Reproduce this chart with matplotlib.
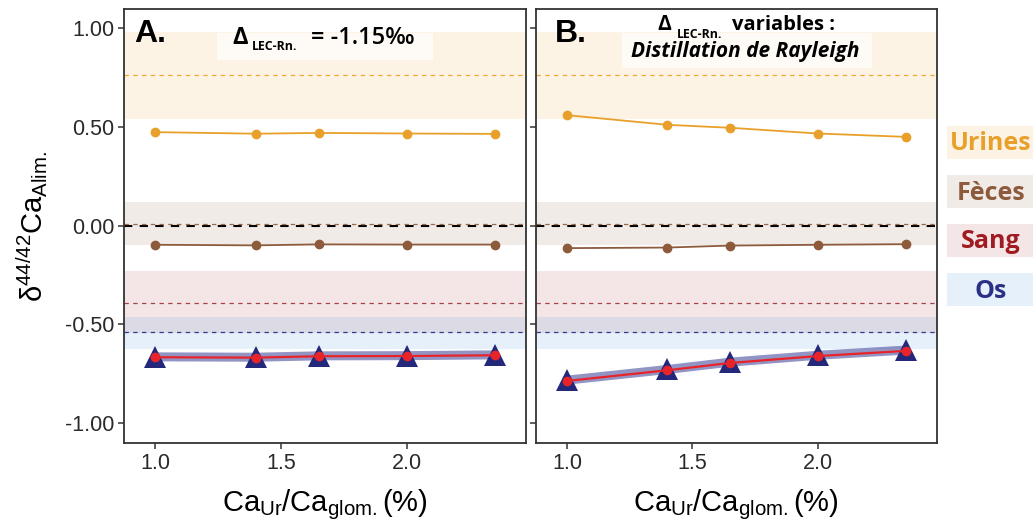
import matplotlib
matplotlib.use('Agg')
import matplotlib.pyplot as plt
from matplotlib.patches import Rectangle

# x: Ca urine / Ca glomerular filtration (%)
x = [1.0, 1.4, 1.65, 2.0, 2.35]

groups = ['Urines', 'Fèces', 'Sang', 'Os']
ref_mean = [0.76, 0.01, -0.39, -0.54]
ref_low = [0.54, -0.10, -0.545, -0.625]
ref_high = [0.98, 0.12, -0.23, -0.46]

# panel A : constant fractionation
urines_a = [0.473, 0.465, 0.469, 0.466, 0.464]
feces_a = [-0.097, -0.100, -0.095, -0.096, -0.096]
sang_a = [-0.666, -0.668, -0.661, -0.660, -0.656]
os_a = [-0.664, -0.666, -0.659, -0.658, -0.654]

# panel B : Rayleigh distillation
urines_b = [0.559, 0.510, 0.495, 0.466, 0.449]
feces_b = [-0.114, -0.111, -0.101, -0.097, -0.094]
sang_b = [-0.786, -0.732, -0.695, -0.660, -0.634]
os_b = [-0.782, -0.728, -0.691, -0.656, -0.630]

yticks = [-1.0, -0.5, 0.0, 0.5, 1.0]
ytick_labels = ['-1.00', '-0.50', '0.00', '0.50', '1.00']
xticks = [1.0, 1.5, 2.0]
xtick_labels = ['1.0', '1.5', '2.0']

text_col = ['#E9A02A', '#8D5B3C', '#A01C22', '#2B2F86']
band_col = ['#EDA835', '#8D5B3C', '#A01C22', '#3C8DDC']
band_alpha = [0.13, 0.12, 0.11, 0.13]
dash_col = ['#F0A830', '#9A6A4C', '#A8404A', '#34388F']
red = '#E8242B'

plt.rcParams['font.family'] = ['Liberation Sans', 'DejaVu Sans']
plt.rcParams['mathtext.fontset'] = 'custom'
plt.rcParams['mathtext.sf'] = 'Liberation Sans'

W, H = 1033, 522
fig = plt.figure(figsize=(W / 100, H / 100), dpi=100)


def px_axes(l, r, t, b):
    return fig.add_axes([l / W, 1 - b / H, (r - l) / W, (b - t) / H])


def px_rect(l, r, t, b, **kw):
    fig.patches.append(Rectangle((l / W, 1 - b / H), (r - l) / W, (b - t) / H,
                                 transform=fig.transFigure, figure=fig, **kw))


def px_text(cx, base, s, **kw):
    kw.setdefault('ha', 'center')
    return fig.text(cx / W, 1 - base / H, s, va='baseline', **kw)


axA = px_axes(124, 526, 9, 443)
axB = px_axes(536, 937, 9, 443)

for ax, ur, fe, sa, os_ in [(axA, urines_a, feces_a, sang_a, os_a),
                            (axB, urines_b, feces_b, sang_b, os_b)]:
    for i in range(4):
        ax.axhspan(ref_low[i], ref_high[i], color=band_col[i], alpha=band_alpha[i], lw=0, zorder=0)
    ax.axhline(0, color='black', lw=1.5, dashes=(4, 3.5), zorder=1)
    for i in range(4):
        ax.axhline(ref_mean[i], color=dash_col[i], lw=0.9, dashes=(3.5, 3.5), zorder=1)

    ax.plot(x, ur, '-o', color=text_col[0], lw=1.3, ms=6, zorder=3)
    ax.plot(x, fe, '-o', color=text_col[1], lw=1.3, ms=6, zorder=3)
    ax.plot(x, os_, '-', color='#4A4E9E', lw=6.5, alpha=0.6, solid_capstyle='round', zorder=3)
    ax.plot(x, os_, '^', color='#23287A', ms=16, mew=0, zorder=4)
    ax.plot(x, sa, '-o', color=red, lw=1.6, ms=7, mew=0, zorder=5)

    ax.set_xlim(0.877, 2.474)
    ax.set_ylim(-1.10, 1.096)
    ax.set_xticks(xticks)
    ax.set_xticklabels(xtick_labels)
    ax.set_yticks(yticks)
    ax.set_yticklabels(ytick_labels)
    ax.tick_params(direction='out', length=4, width=1.1, color='#333333',
                   labelsize=15.5, labelcolor='#2a2a2a', pad=3)
    for s in ax.spines.values():
        s.set_color('#333333')
        s.set_linewidth(1.3)
        s.set_zorder(6)

axB.tick_params(axis='y', labelleft=False)

# axis labels
fig.text(32 / W, 1 - 226 / H, r'$\mathsf{δ^{44/42}Ca_{Alim.}}$', rotation=90,
         ha='center', va='center', fontsize=21)
for cx in [325, 736]:
    px_text(cx, 511, r'$\mathsf{Ca_{Ur}/Ca_{glom.}(\%)}$', fontsize=21)

# panel letters
px_text(134, 42, 'A.', ha='left', fontsize=23, weight='bold')
px_text(555, 42, 'B.', ha='left', fontsize=23, weight='bold')

# annotation boxes
px_rect(217, 433, 33, 60, facecolor='white', alpha=0.7, lw=0, zorder=7)
px_rect(622, 872, 33, 68, facecolor='white', alpha=0.7, lw=0, zorder=7)

sans = ['Open Sans', 'DejaVu Sans']
sub = 'LEC-Rn.'
# A
px_text(240, 43.5, 'Δ', fontsize=17, weight='bold', family=sans, zorder=8)
px_text(275, 50, sub, fontsize=8.8, weight='bold', family=sans, zorder=8)
px_text(363, 43.5, '= -1.15‰', fontsize=17, weight='semibold', family=sans, zorder=8)
# B
px_text(664, 30.5, 'Δ', fontsize=15, weight='bold', family=sans, zorder=8)
px_text(700, 38, sub, fontsize=8.8, weight='bold', family=sans, zorder=8)
px_text(784, 30.5, 'variables :', fontsize=14.5, weight='bold', family=sans, zorder=8)
px_text(745, 57.5, 'Distillation de Rayleigh', fontsize=15, weight='bold',
        style='italic', family=sans, zorder=8)

# group legend on the right
box_tops = [126, 175, 224, 273]
for i, g in enumerate(groups):
    t = box_tops[i]
    px_rect(947, 1040, t, t + 33, facecolor=band_col[i], alpha=band_alpha[i], lw=0)
    px_text(991, t + 24.5, g, fontsize=18, weight='bold', color=text_col[i], family=sans)

fig.savefig('out.png', dpi=100)
